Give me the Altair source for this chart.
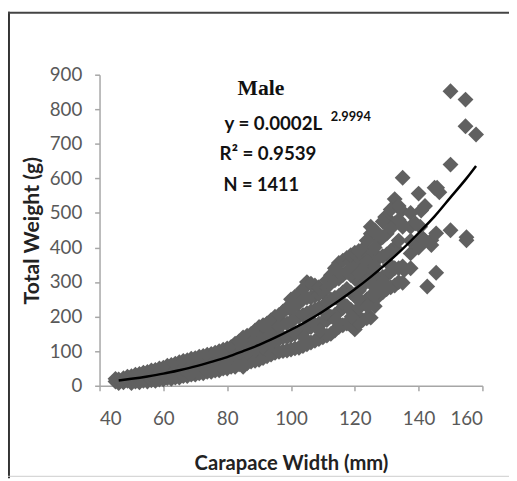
import altair as alt
import pandas as pd

# ---- scatter data (carapace width mm, total weight g) ----
pts_x = [
    45, 45, 46, 46, 47.5, 47.5, 47.5,
    50, 50, 50, 52.5, 52.5, 52.5, 55, 55, 55, 57.5, 57.5, 57.5,
    60, 60, 60, 62.5, 62.5, 62.5, 65, 65, 65, 67.5, 67.5, 67.5,
    70, 70, 70, 72.5, 72.5, 72.5, 75, 75, 75, 77.5, 77.5, 77.5,
    80, 80, 80, 82.5, 82.5, 82.5,
    85, 85, 85, 85, 87.5, 87.5, 87.5, 87.5,
    90, 90, 90, 90, 92.5, 92.5, 92.5, 92.5,
    95, 95, 95, 95, 97.5, 97.5, 97.5, 97.5,
    100, 100, 100, 100, 100, 102.5, 102.5, 102.5, 102.5, 102.5,
    105, 105, 105, 105, 105, 107.5, 107.5, 107.5, 107.5, 107.5,
    110, 110, 110, 110, 112.5, 112.5, 112.5, 112.5, 112.5,
    115, 115, 115, 115, 115, 117.5, 117.5, 117.5, 117.5, 117.5,
    120, 120, 120, 120, 120, 120, 122.5, 122.5, 122.5, 122.5, 122.5,
    125, 125, 125, 125, 125, 125, 127.5, 127.5, 127.5, 127.5,
    129.5, 130, 130, 130, 130, 130, 132.5, 132.5, 132.5, 132.5, 132.5,
    134.6, 134.6, 135, 135, 135, 135, 135.5, 137.5, 137.5,
    140, 140, 140.5, 140.8, 141, 142.7, 144, 144, 145, 145.5, 145.5, 145.8, 146.5,
    150, 150, 150, 154.7, 154.7, 155, 155, 158,
    # half-step columns
    48.75, 48.75, 51.25, 51.25, 51.25, 53.75, 53.75, 53.75,
    56.25, 56.25, 56.25, 58.75, 58.75, 58.75, 61.25, 61.25, 61.25,
    63.75, 63.75, 63.75, 66.25, 66.25, 66.25, 68.75, 68.75, 68.75,
    71.25, 71.25, 71.25, 73.75, 73.75, 73.75, 76.25, 76.25, 76.25,
    78.75, 78.75, 78.75, 81.25, 81.25, 81.25, 83.75, 83.75, 83.75,
    86.25, 86.25, 86.25, 86.25, 88.75, 88.75, 88.75, 88.75,
    91.25, 91.25, 91.25, 91.25, 93.75, 93.75, 93.75, 93.75,
    96.25, 96.25, 96.25, 96.25, 98.75, 98.75, 98.75, 98.75,
    101.25, 101.25, 101.25, 101.25, 101.25, 103.75, 103.75, 103.75, 103.75, 103.75,
    106.25, 106.25, 106.25, 106.25, 106.25, 108.75, 108.75, 108.75, 108.75, 108.75,
    111.25, 111.25, 111.25, 111.25, 111.25, 113.75, 113.75, 113.75, 113.75, 113.75,
    116.25, 116.25, 116.25, 116.25, 116.25,
    118.75, 118.75, 118.75, 118.75, 118.75, 118.75,
    121.25, 121.25, 121.25, 121.25, 121.25, 121.25,
    123.75, 123.75, 123.75, 123.75, 123.75, 126.25, 126.25, 126.25, 126.25, 126.25,
    128.75, 128.75, 128.75, 128.75, 128.75, 131.25, 131.25, 131.25, 131.25, 131.25,
    133.75, 133.75, 133.75, 133.75, 133.75,
    137.5, 137.5, 137.5, 139, 142, 142,
    # extra fill inside the dense band
    104, 106, 109, 111, 114, 116, 119, 121, 124, 126, 129, 131,
]
pts_y = [
    12, 20, 8, 18, 10, 22, 15,
    8, 18, 28, 10, 22, 34, 12, 25, 40, 14, 30, 46,
    18, 35, 52, 20, 40, 60, 24, 45, 68, 28, 52, 74,
    32, 56, 80, 36, 62, 86, 40, 68, 92, 45, 75, 100,
    50, 82, 108, 55, 90, 122,
    55, 85, 110, 140, 70, 100, 125, 150,
    75, 105, 140, 170, 85, 115, 150, 180,
    95, 130, 165, 200, 100, 140, 180, 215,
    105, 145, 185, 220, 250, 110, 155, 200, 240, 265,
    120, 165, 210, 255, 300, 130, 175, 220, 260, 290,
    140, 185, 230, 270, 150, 200, 250, 300, 320,
    170, 215, 260, 310, 355, 180, 230, 280, 330, 370,
    163, 210, 260, 310, 350, 385, 190, 240, 290, 340, 395,
    197, 260, 320, 380, 440, 460, 260, 310, 370, 420,
    488, 280, 320, 380, 440, 487, 290, 340, 400, 470, 540,
    507, 470, 298, 345, 460, 602, 335, 383, 420,
    400, 556, 460, 507, 430, 287, 407, 421, 573, 327, 441, 573, 560,
    450, 640, 852, 828, 751, 421, 430, 727,
    # half-step columns
    14, 26, 12, 24, 32, 14, 28, 38,
    16, 30, 44, 18, 36, 50, 22, 40, 58,
    24, 46, 64, 28, 50, 72, 32, 56, 78,
    36, 60, 84, 40, 66, 90, 44, 72, 96,
    50, 78, 104, 55, 85, 112, 62, 95, 128,
    65, 95, 120, 145, 72, 105, 135, 160,
    80, 110, 145, 175, 90, 125, 160, 190,
    98, 135, 172, 205, 102, 140, 180, 225,
    108, 150, 195, 235, 258, 115, 160, 205, 250, 280,
    125, 170, 215, 255, 295, 135, 180, 225, 265, 285,
    145, 190, 240, 285, 305, 160, 205, 255, 305, 340,
    175, 225, 270, 320, 362,
    175, 220, 270, 320, 360, 378,
    180, 225, 275, 325, 372, 390,
    195, 250, 305, 360, 420, 230, 285, 345, 400, 450,
    270, 315, 375, 430, 475, 285, 330, 390, 455, 510,
    300, 340, 420, 480, 520,
    340, 460, 500, 470, 420, 520,
    # extra fill inside the dense band
    140, 190, 160, 210, 190, 240, 200, 250, 230, 260, 300, 350,
]

# ---- fitted power curve ----
fit_x = [46, 50, 55, 60, 65, 70, 75, 80, 85, 90, 95, 100, 105, 110, 115,
         120, 125, 130, 135, 140, 145, 150, 155, 158]
fit_y = [15, 20, 27, 35, 45, 56, 69, 83, 100, 118, 139, 162, 187, 215, 246,
         279, 315, 354, 396, 442, 490, 545, 600, 636]

x_ticks = [40, 60, 80, 100, 120, 140, 160]
y_ticks = [0, 100, 200, 300, 400, 500, 600, 700, 800, 900]

title_text = "Male"
eq_text = "y = 0.0002L"
eq_exp = "2.9994"
r2_text = "R² = 0.9539"
n_text = "N = 1411"

W, H = 389, 316

pts = pd.DataFrame({"cw": pts_x, "tw": pts_y})
fit = pd.DataFrame({"cw": fit_x, "tw": fit_y})
one = pd.DataFrame({"a": [0]})

xscale = alt.Scale(domain=[40, 160], nice=False)
yscale = alt.Scale(domain=[0, 900], nice=False)

xaxis = alt.Axis(values=x_ticks, title="Carapace Width (mm)", labelPadding=19,
                 titlePadding=26, labelOverlap=False, titleFontSize=20.5)
yaxis = alt.Axis(values=y_ticks, title="Total Weight (g)", labelPadding=13,
                 titlePadding=6, labelOverlap=False, titleFontSize=21.5)

scatter = alt.Chart(pts).mark_point(
    shape="diamond", filled=True, size=260, color="#606060", opacity=1
).encode(
    x=alt.X("cw:Q", scale=xscale, axis=xaxis),
    y=alt.Y("tw:Q", scale=yscale, axis=yaxis),
)

curve = alt.Chart(fit).mark_line(
    color="#000000", strokeWidth=2.5, interpolate="monotone"
).encode(
    x=alt.X("cw:Q", scale=xscale, axis=xaxis),
    y=alt.Y("tw:Q", scale=yscale, axis=yaxis),
)

def label(txt, x, y, size, weight="bold", font="Lato", align="left"):
    return alt.Chart(one).mark_text(
        text=txt, font=font, fontSize=size, fontWeight=weight, color="#111111",
        align=align, baseline="alphabetic"
    ).encode(x=alt.value(x), y=alt.value(y))

t_male = label(title_text, 164, 21, 22, font="Liberation Serif", align="center")
t_eq = label(eq_text, 127, 56, 19)
t_exp = label(eq_exp, 235, 47, 13)
t_r2 = label(r2_text, 122, 87, 19)
t_n = label(n_text, 126, 118, 18.5)

frame_left = alt.Chart(one).mark_rule(color="#333333", strokeWidth=2).encode(
    x=alt.value(-92), y=alt.value(-64), y2=alt.value(410))
frame_top = alt.Chart(one).mark_rule(color="#444444", strokeWidth=2).encode(
    x=alt.value(-93), x2=alt.value(416), y=alt.value(-63))
frame_bottom = alt.Chart(one).mark_rule(color="#cccccc", strokeWidth=1).encode(
    x=alt.value(-93), x2=alt.value(416), y=alt.value(408))

chart = alt.layer(
    scatter, curve, t_male, t_eq, t_exp, t_r2, t_n,
    frame_left, frame_top, frame_bottom
).properties(
    width=W, height=H,
    autosize=alt.AutoSizeParams(type="none"),
    padding={"left": 93, "top": 64, "right": 27, "bottom": 93},
    background="white",
).configure_view(stroke=None).configure_axis(
    grid=False, domainColor="#a6a6a6", domainWidth=1.5, tickColor="#a6a6a6",
    tickWidth=1.5, tickSize=5, labelFont="Lato", labelFontSize=19,
    labelColor="#595959", titleFont="Lato",
    titleFontWeight="bold", titleColor="#222222",
)

chart.save("out.html", embed_options={"renderer": "svg", "actions": False})
